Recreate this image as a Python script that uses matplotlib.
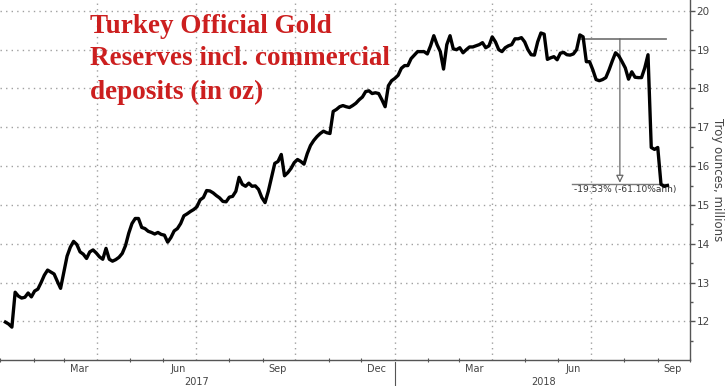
import numpy as np
import pandas as pd
import matplotlib
matplotlib.use("Agg")
import matplotlib.pyplot as plt
import matplotlib.dates as mdates
import matplotlib.transforms as mtransforms

# ── data (millions of troy ounces, sampled every 3 days) ──────────
start_date = "2017-01-06"
reserves = [
    11.98, 11.93, 11.85, 12.75, 12.65, 12.60, 12.62, 12.73, 12.63, 12.78,
    12.83, 13.00, 13.19, 13.32, 13.27, 13.22, 13.03, 12.85, 13.27, 13.68,
    13.91, 14.06, 13.98, 13.79, 13.73, 13.62, 13.79, 13.84, 13.76, 13.66,
    13.60, 13.88, 13.60, 13.55, 13.59, 13.65, 13.75, 13.95, 14.27, 14.52,
    14.65, 14.65, 14.42, 14.39, 14.32, 14.29, 14.25, 14.29, 14.24, 14.22,
    14.04, 14.16, 14.33, 14.39, 14.52, 14.72, 14.77, 14.83, 14.88, 14.95,
    15.13, 15.19, 15.37, 15.36, 15.31, 15.24, 15.18, 15.09, 15.08, 15.20,
    15.22, 15.35, 15.71, 15.53, 15.48, 15.56, 15.48, 15.49, 15.40, 15.19,
    15.06, 15.35, 15.71, 16.07, 16.12, 16.30, 15.75, 15.83, 15.94, 16.09,
    16.17, 16.12, 16.05, 16.32, 16.53, 16.66, 16.76, 16.84, 16.90, 16.86,
    16.84, 17.41, 17.46, 17.53, 17.56, 17.53, 17.51, 17.56, 17.62, 17.71,
    17.78, 17.92, 17.94, 17.87, 17.89, 17.87, 17.71, 17.53, 18.07, 18.20,
    18.26, 18.34, 18.52, 18.59, 18.59, 18.77, 18.86, 18.95, 18.95, 18.95,
    18.89, 19.10, 19.36, 19.13, 18.95, 18.50, 19.13, 19.36, 19.02, 19.00,
    19.05, 18.92, 19.00, 19.07, 19.07, 19.10, 19.13, 19.18, 19.05, 19.10,
    19.33, 19.20, 19.00, 18.95, 19.05, 19.10, 19.13, 19.28, 19.28, 19.31,
    19.20, 19.00, 18.87, 18.86, 19.20, 19.43, 19.40, 18.75, 18.79, 18.82,
    18.74, 18.91, 18.93, 18.87, 18.86, 18.89, 19.00, 19.38, 19.33, 18.69,
    18.69, 18.48, 18.23, 18.20, 18.23, 18.28, 18.48, 18.71, 18.92, 18.84,
    18.69, 18.53, 18.24, 18.43, 18.29, 18.28, 18.28, 18.53, 18.87, 16.48,
    16.43, 16.48, 15.53, 15.48, 15.50,
]
dates = pd.date_range(start_date, periods=len(reserves), freq="3D")

y_ticks = [12, 13, 14, 15, 16, 17, 18, 19, 20]
grid_dates = ["2017-04-01", "2017-07-01", "2017-10-01",
              "2018-01-01", "2018-04-01", "2018-07-01"]
month_labels = ["Mar", "Jun", "Sep", "Dec", "Mar", "Jun", "Sep"]
month_label_dates = ["2017-03-15", "2017-06-15", "2017-09-15", "2017-12-15",
                     "2018-03-15", "2018-06-15", "2018-09-15"]
year_labels = ["2017", "2018"]
year_label_dates = ["2017-07-02", "2018-05-18"]
year_break = "2018-01-01"

# drawdown annotation
peak_level = 19.28
trough_level = 15.55
peak_span = ("2018-06-22", "2018-09-09")
trough_span = ("2018-06-14", "2018-09-10")
arrow_date = "2018-07-28"
drawdown_text = "-19.53% (-61.10%ann)"

TITLE = "Turkey Official Gold\nReserves incl. commercial\ndeposits (in oz)"
RED = "#cc1f1f"
AXIS_COLOR = "#555555"
TEXT_COLOR = "#444444"
NARROW = ["Liberation Sans Narrow", "DejaVu Sans"]

fig = plt.figure(figsize=(7.25, 3.86), dpi=100)
ax = fig.add_axes([0.0, 0.067, 0.952, 0.933])

ax.plot(dates, reserves, color="black", linewidth=2.4, solid_joinstyle="round", zorder=3)

ax.set_xlim(pd.Timestamp("2017-01-01"), pd.Timestamp("2018-10-01"))
ax.set_ylim(11, 20.28)

# ── axes / spines
for side in ("left", "top"):
    ax.spines[side].set_visible(False)
for side in ("right", "bottom"):
    ax.spines[side].set_color(AXIS_COLOR)
    ax.spines[side].set_linewidth(1.0)

ax.yaxis.tick_right()
ax.set_yticks(y_ticks)
ax.set_yticks(np.arange(11.5, 20.5, 1.0), minor=True)
ax.tick_params(axis="y", which="major", length=3.5, width=1, colors=AXIS_COLOR,
               labelcolor=TEXT_COLOR, labelsize=7.5, pad=1)
ax.tick_params(axis="y", which="minor", length=2.5, width=1, colors=AXIS_COLOR)
for lbl in ax.get_yticklabels():
    lbl.set_family(NARROW)

ax.set_xticks([pd.Timestamp(d) for d in grid_dates])
ax.xaxis.set_minor_locator(mdates.MonthLocator())
ax.tick_params(axis="x", which="major", length=0, labelbottom=False)
ax.tick_params(axis="x", which="minor", length=3, width=0.8, colors=AXIS_COLOR,
               direction="inout")

ax.grid(True, which="major", color="#a0a0a0", linestyle=(0, (1, 3)), linewidth=1.0)
ax.set_axisbelow(True)

ax.yaxis.set_label_position("right")
ax.set_ylabel("Troy ounces, millions", rotation=270, fontsize=8.5,
              color=TEXT_COLOR, family=NARROW, va="center")
ax.yaxis.set_label_coords(1.04, 0.5)

# ── month and year labels under the axis
trans = mtransforms.blended_transform_factory(ax.transData, ax.transAxes)
for d, lab in zip(month_label_dates, month_labels):
    ax.text(pd.Timestamp(d), -0.012, lab, transform=trans, ha="center", va="top",
            fontsize=7, color=TEXT_COLOR, family=NARROW)
for d, lab in zip(year_label_dates, year_labels):
    ax.text(pd.Timestamp(d), -0.046, lab, transform=trans, ha="center", va="top",
            fontsize=7, color=TEXT_COLOR, family=NARROW)
ax.plot([pd.Timestamp(year_break)] * 2, [-0.005, -0.075], transform=trans,
        color=AXIS_COLOR, linewidth=0.8, clip_on=False)

# ── drawdown annotation
ax.plot([pd.Timestamp(d) for d in peak_span], [peak_level] * 2,
        color="#7a7a7a", linewidth=1.3, zorder=2)
ax.plot([pd.Timestamp(d) for d in trough_span], [trough_level] * 2,
        color="#7a7a7a", linewidth=1.0, zorder=2)
ax.annotate("", xy=(pd.Timestamp(arrow_date), trough_level + 0.02),
            xytext=(pd.Timestamp(arrow_date), peak_level),
            arrowprops=dict(arrowstyle="-|>", fc="white", ec="#666666",
                        lw=0.9, mutation_scale=11, shrinkA=0, shrinkB=0),
            zorder=2)
ax.text(pd.Timestamp(trough_span[0]) + pd.Timedelta(days=2), trough_level - 0.04,
        drawdown_text, ha="left", va="top", fontsize=6.5, color="#333333",
        family=NARROW, zorder=1)

# ── title
fig.text(0.124, 0.965, TITLE, ha="left", va="top", color=RED,
         fontsize=19.5, fontweight="bold", family="Liberation Serif",
         linespacing=1.42)

fig.savefig("out.png", dpi=100)
